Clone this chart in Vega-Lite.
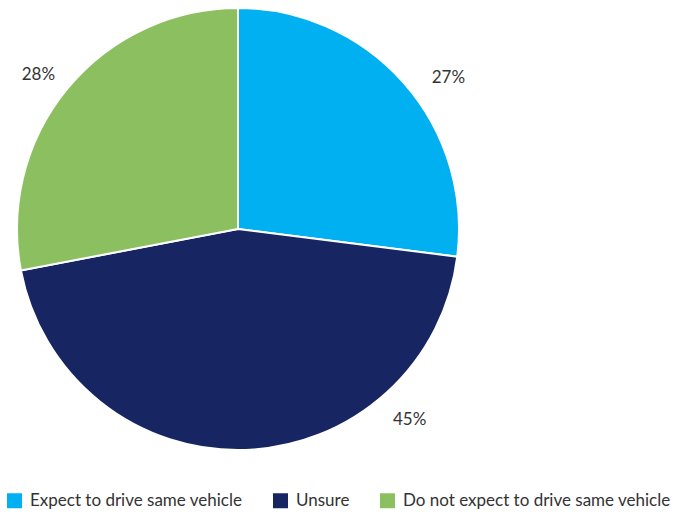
{
  "$schema": "https://vega.github.io/schema/vega-lite/v6.json",
  "width": 476,
  "height": 458,
  "padding": {"left": 0, "top": 0, "right": 198, "bottom": 57},
  "autosize": {"type": "none"},
  "background": "white",
  "config": {"view": {"stroke": null}, "font": "Lato"},
  "data": {
    "values": [
      {"category": "Expect to drive same vehicle", "value": 0.27, "order": 1},
      {"category": "Unsure", "value": 0.45, "order": 2},
      {"category": "Do not expect to drive same vehicle", "value": 0.28, "order": 3}
    ]
  },
  "encoding": {
    "theta": {"field": "value", "type": "quantitative", "stack": true},
    "order": {"field": "order", "type": "quantitative"}
  },
  "layer": [
    {
      "mark": {"type": "arc", "outerRadius": 221, "stroke": "white", "strokeWidth": 2},
      "encoding": {
        "color": {
          "field": "category",
          "type": "nominal",
          "sort": ["Expect to drive same vehicle", "Unsure", "Do not expect to drive same vehicle"],
          "scale": {
            "domain": ["Expect to drive same vehicle", "Unsure", "Do not expect to drive same vehicle"],
            "range": ["#00b0f0", "#172663", "#8cbf60"]
          },
          "legend": {
            "title": null,
            "orient": "none",
            "legendX": 6,
            "legendY": 492,
            "direction": "horizontal",
            "symbolType": "square",
            "symbolSize": 225,
            "symbolStrokeWidth": 0,
            "labelFontSize": 17,
            "labelFont": "Lato",
            "labelColor": "#333333",
            "labelOffset": 7,
            "columnPadding": 29,
            "labelLimit": 400
          }
        }
      }
    },
    {
      "mark": {"type": "text", "radius": 259, "thetaOffset": 0.1, "fontSize": 17, "color": "#333333", "font": "Lato"},
      "encoding": {
        "text": {"condition": {"test": "datum.order !== 1", "value": ""}, "field": "value", "type": "quantitative", "format": ".0%"}
      }
    },
    {
      "mark": {"type": "text", "radius": 257, "thetaOffset": -0.7, "fontSize": 17, "color": "#333333", "font": "Lato"},
      "encoding": {
        "text": {"condition": {"test": "datum.order !== 2", "value": ""}, "field": "value", "type": "quantitative", "format": ".0%"}
      }
    },
    {
      "mark": {"type": "text", "radius": 252, "thetaOffset": -0.035, "fontSize": 17, "color": "#333333", "font": "Lato"},
      "encoding": {
        "text": {"condition": {"test": "datum.order !== 3", "value": ""}, "field": "value", "type": "quantitative", "format": ".0%"}
      }
    }
  ]
}
